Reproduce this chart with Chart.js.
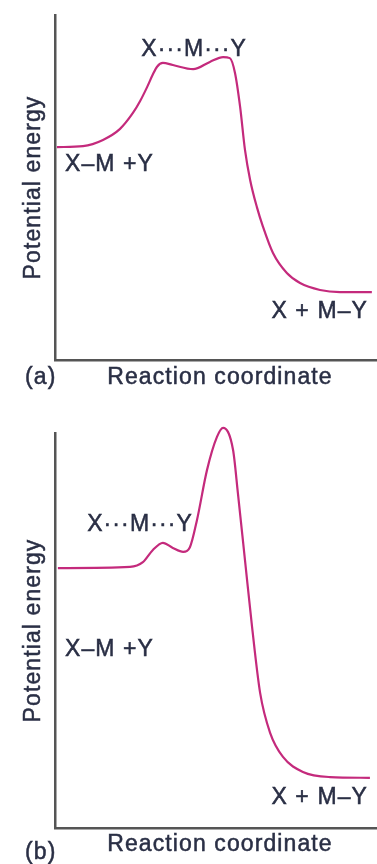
<!DOCTYPE html>
<html>
<head>
<meta charset="utf-8">
<script src="https://cdn.jsdelivr.net/npm/chart.js@4"></script>
<style>
  body { margin: 0; background: #fff; }
  .panel { position: absolute; left: 0; width: 377px; }
</style>
</head>
<body>
<div class="panel" style="top:0;height:400px"><canvas id="chartA"></canvas></div>
<div class="panel" style="top:400px;height:464px"><canvas id="chartB"></canvas></div>
<script>
// panel (a) - reaction coordinate vs potential energy
const coordA = [0.6, 8.7, 14.9, 20.2, 24.2, 26.4, 28.6, 30.3, 31.7, 33.5, 36.6, 42.9, 48.1, 52.2, 54.3, 55.9, 57.5, 59.0, 60.6, 62.7, 64.6, 67.7, 72.0, 76.1, 82.3, 88.5, 98.4];
const energyA = [61.7, 62.0, 63.8, 67.0, 71.6, 75.0, 79.1, 82.6, 85.0, 86.1, 85.5, 84.3, 86.4, 87.8, 87.5, 83.2, 73.3, 60.9, 52.2, 44.3, 38.6, 31.0, 25.2, 22.3, 20.3, 19.7, 19.7];

// panel (b)
const coordB = [0.9, 23.3, 27.3, 30.4, 33.5, 36.6, 39.8, 41.9, 44.1, 47.2, 50.3, 52.2, 55.3, 56.8, 59.0, 61.2, 63.7, 66.8, 70.8, 77.0, 85.4, 97.8];
const energyB = [65.8, 66.1, 67.3, 70.4, 72.2, 70.9, 69.9, 71.1, 78.0, 90.6, 99.0, 101.3, 95.7, 84.8, 67.8, 50.9, 34.2, 24.1, 18.0, 14.2, 12.9, 12.7];

const stateLabelsA = ["X\u00b7\u00b7\u00b7M\u00b7\u00b7\u00b7Y", "X\u2013M +Y", "X + M\u2013Y"];
const stateLabelsB = ["X\u00b7\u00b7\u00b7M\u00b7\u00b7\u00b7Y", "X\u2013M +Y", "X + M\u2013Y"];
const axisTitles = ["Potential energy", "Reaction coordinate"];
const panelTags = ["(a)", "(b)"];

const textColor = '#2a2f45';
const fontStr = '23px "Liberation Sans", Arial, sans-serif';

// draws the state labels and axis titles
const textPlugin = {
    id: 'textLabels',
    afterDraw(chart, args, opts) {
        const ctx = chart.ctx;
        const area = chart.chartArea;
        const xs = chart.scales.x;
        const ys = chart.scales.y;
        ctx.save();
        ctx.fillStyle = textColor;
        ctx.strokeStyle = textColor;
        ctx.lineWidth = 0.5;
        ctx.font = fontStr;
        ctx.letterSpacing = '1.1px';
        ctx.textBaseline = 'middle';
        function put(text, x, y) {
            ctx.fillText(text, x, y);
            ctx.strokeText(text, x, y);
        }
        opts.items.forEach(function(it) {
            ctx.textAlign = it.align;
            put(it.text, xs.getPixelForValue(it.x), ys.getPixelForValue(it.y));
        });
        // x axis title and panel tag
        ctx.textAlign = 'center';
        put(axisTitles[1], 220, area.bottom + opts.titleGap);
        ctx.textAlign = 'left';
        put(opts.tag, 25, area.bottom + opts.tagGap);
        // y axis title
        ctx.translate(area.left - 21, (area.top + area.bottom) / 2);
        ctx.rotate(-Math.PI / 2);
        ctx.textAlign = 'center';
        put(axisTitles[0], 0, 0);
        ctx.restore();
    }
};

function makeChart(id, xs, ys, padding, items, tag, titleGap, tagGap) {
    const pts = [];
    for (let i = 0; i < xs.length; i++) {
        pts.push({x: xs[i], y: ys[i]});
    }
    const axis = {
        type: 'linear',
        min: 0,
        max: 100,
        grid: { display: false, drawTicks: false },
        ticks: { display: false },
        border: { display: true, color: '#555', width: 2.5 }
    };
    return new Chart(document.getElementById(id), {
        type: 'line',
        data: {
            datasets: [{
                data: pts,
                borderColor: '#c42a7c',
                borderWidth: 2.2,
                pointRadius: 0,
                cubicInterpolationMode: 'monotone',
                fill: false,
                clip: false
            }]
        },
        options: {
            responsive: true,
            maintainAspectRatio: false,
            animation: false,
            layout: { padding: padding },
            plugins: {
                legend: { display: false },
                tooltip: { enabled: false },
                textLabels: { items: items, tag: tag, titleGap: titleGap, tagGap: tagGap }
            },
            scales: {
                x: Object.assign({ position: 'bottom' }, axis),
                y: Object.assign({ position: 'left' }, axis)
            }
        },
        plugins: [textPlugin]
    });
}

makeChart('chartA', coordA, energyA, {left: 55, top: 15, right: 0, bottom: 40}, [
    {text: stateLabelsA[0], x: 43.2, y: 89.9, align: 'center'},
    {text: stateLabelsA[1], x: 3.1, y: 56.5, align: 'left'},
    {text: stateLabelsA[2], x: 97.2, y: 13.9, align: 'right'}
], panelTags[0], 18, 18);

makeChart('chartB', coordB, energyB, {left: 55, top: 33, right: 0, bottom: 36}, [
    {text: stateLabelsB[0], x: 26.4, y: 76.7, align: 'center'},
    {text: stateLabelsB[1], x: 3.1, y: 45.1, align: 'left'},
    {text: stateLabelsB[2], x: 97.2, y: 7.6, align: 'right'}
], panelTags[1], 17, 25);
</script>
</body>
</html>
